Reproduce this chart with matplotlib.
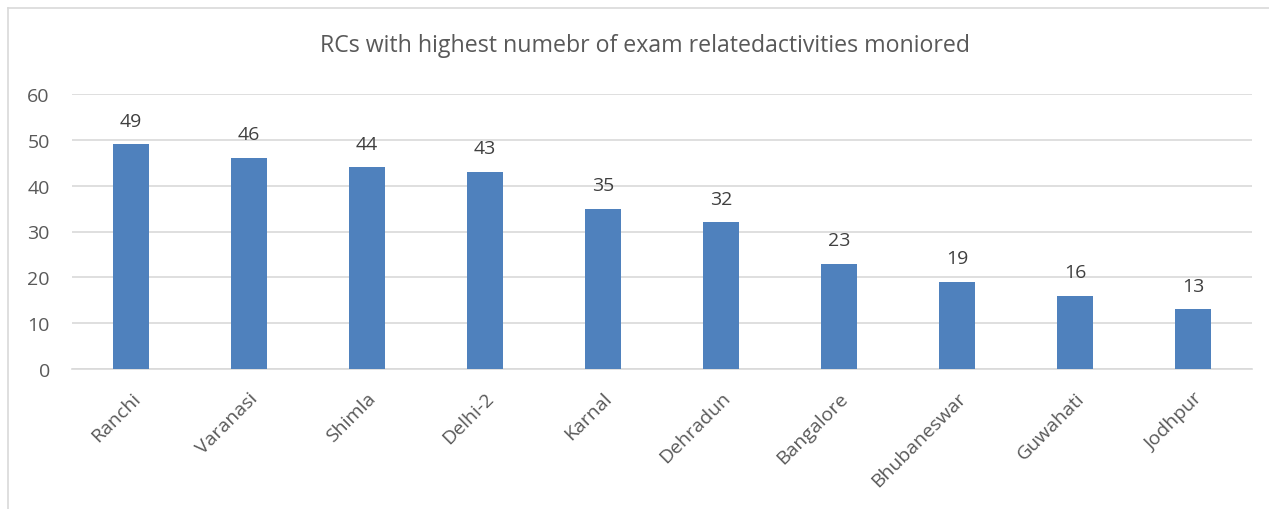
import matplotlib
matplotlib.use('Agg')
import matplotlib.pyplot as plt
from matplotlib.lines import Line2D

# data
rcs = ['Ranchi', 'Varanasi', 'Shimla', 'Delhi-2', 'Karnal', 'Dehradun',
       'Bangalore', 'Bhubaneswar', 'Guwahati', 'Jodhpur']
counts = [49, 46, 44, 43, 35, 32, 23, 19, 16, 13]
yticks = [0, 10, 20, 30, 40, 50, 60]
title = 'RCs with highest numebr of exam relatedactivities moniored'

plt.rcParams['font.family'] = ['Open Sans', 'DejaVu Sans']
txt = '#595959'
grid = '#D9D9D9'

fig = plt.figure(figsize=(12.69, 5.10), dpi=100)
ax = fig.add_axes([72/1269, 1 - 370/510, (1252 - 72)/1269, (370 - 95)/510])

x = range(len(rcs))
bars = ax.bar(x, counts, width=0.31, color='#4F81BD', zorder=3)
for xi, v in zip(x, counts):
    ax.text(xi, v + 3.2, str(v), ha='center', va='bottom', fontsize=14, color='#404040')

ax.set_xlim(-0.5, len(rcs) - 0.5)
ax.set_ylim(0, 60)
ax.set_yticks(yticks)
ax.yaxis.grid(True, color=grid, linewidth=1.2, zorder=0)
ax.set_xticks(list(x))
ax.set_xticklabels(rcs, rotation=45, ha='right', rotation_mode='anchor',
                   fontsize=14, color=txt)
ax.tick_params(axis='both', length=0, labelsize=14, labelcolor=txt)
ax.tick_params(axis='x', pad=14)
ax.tick_params(axis='y', pad=16)
for s in ['top', 'right', 'left']:
    ax.spines[s].set_visible(False)
ax.spines['bottom'].set_color(grid)
ax.spines['bottom'].set_linewidth(1.2)

fig.text(645/1269, 1 - 46/510, title, ha='center', va='center', fontsize=16.7, color=txt)

# chart border
fig.add_artist(Line2D([8/1269, 8/1269], [0, 1 - 9/510], color=grid, linewidth=1.2))
fig.add_artist(Line2D([8/1269, 1], [1 - 9/510, 1 - 9/510], color=grid, linewidth=1.2))

fig.savefig('out.png', dpi=100, facecolor='white')
